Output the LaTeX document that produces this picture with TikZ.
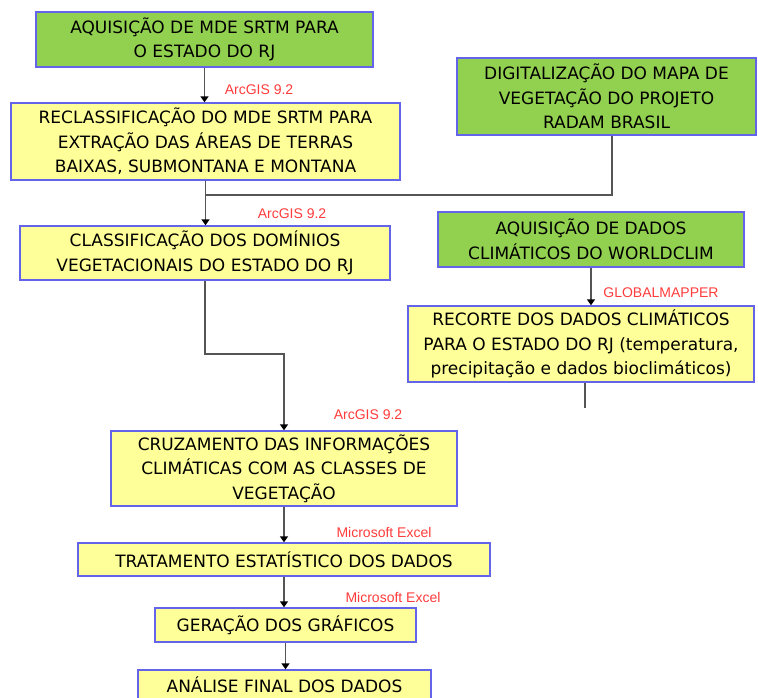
\documentclass[tikz,border=0pt]{standalone}
\usepackage{fontspec}
\setmainfont{DejaVu Sans}
\newfontfamily\labelfont{Liberation Sans}
\usetikzlibrary{arrows.meta}
\definecolor{boxgreen}{RGB}{146,208,80}
\definecolor{boxyellow}{RGB}{255,255,153}
\definecolor{boxblue}{RGB}{100,100,235}
\definecolor{linegray}{RGB}{85,85,85}
\definecolor{labelred}{RGB}{255,60,60}
\begin{document}
\begin{tikzpicture}[x=1pt,y=-1pt,
  box/.style={draw=boxblue, line width=1.4pt, inner sep=0pt, align=center,
    font=\fontsize{17}{24.5}\selectfont},
  greenbox/.style={box, fill=boxgreen},
  yellowbox/.style={box, fill=boxyellow},
  conn/.style={draw=linegray, line width=1.6pt},
  arr/.style={conn, -{Triangle[length=6pt,width=8pt,color=black]}},
  tool/.style={text=labelred, inner sep=0pt, font=\labelfont\fontsize{14}{14}\selectfont}]
\clip (0,0) rectangle (758,697);
\fill[white] (0,0) rectangle (758,697);

% boxes
\node[greenbox, minimum width=337pt, minimum height=55pt] (b1) at (204.5,39.5)
  {AQUISIÇÃO DE MDE SRTM PARA\\O ESTADO DO RJ};
\node[yellowbox, minimum width=389pt, minimum height=77pt] (b2) at (205.5,141.5)
  {RECLASSIFICAÇÃO DO MDE SRTM PARA\\EXTRAÇÃO DAS ÁREAS DE TERRAS\\BAIXAS, SUBMONTANA E MONTANA};
\node[greenbox, minimum width=299pt, minimum height=77pt] (b3) at (606.5,96.5)
  {DIGITALIZAÇÃO DO MAPA DE\\VEGETAÇÃO DO PROJETO\\RADAM BRASIL};
\node[yellowbox, minimum width=370pt, minimum height=54pt] (b4) at (205,253)
  {CLASSIFICAÇÃO DOS DOMÍNIOS\\VEGETACIONAIS DO ESTADO DO RJ};
\node[greenbox, minimum width=306pt, minimum height=55pt] (b5) at (591,239.5)
  {AQUISIÇÃO DE DADOS\\CLIMÁTICOS DO WORLDCLIM};
\node[yellowbox, minimum width=346pt, minimum height=76pt] (b6) at (581,344)
  {RECORTE DOS DADOS CLIMÁTICOS\\PARA O ESTADO DO RJ (temperatura,\\precipitação e dados bioclimáticos)};
\node[yellowbox, minimum width=346pt, minimum height=75pt] (b7) at (284,468.5)
  {CRUZAMENTO DAS INFORMAÇÕES\\CLIMÁTICAS COM AS CLASSES DE\\VEGETAÇÃO};
\node[yellowbox, minimum width=412pt, minimum height=33pt] (b8) at (284,559.5)
  {TRATAMENTO ESTATÍSTICO DOS DADOS};
\node[yellowbox, minimum width=261pt, minimum height=34pt] (b9) at (285.5,625)
  {GERAÇÃO DOS GRÁFICOS};
\node[yellowbox, minimum width=293pt, minimum height=30pt] (b10) at (284.5,685)
  {ANÁLISE FINAL DOS DADOS};

% tool labels
\node[tool] (t1) at (259,90) {ArcGIS 9.2};
\node[tool] (t2) at (292,214) {ArcGIS 9.2};
\node[tool] (t3) at (661,293) {GLOBALMAPPER};
\node[tool] (t4) at (368,415) {ArcGIS 9.2};
\node[tool] (t5) at (384,532) {Microsoft Excel};
\node[tool] (t6) at (393,597) {Microsoft Excel};

% connectors
\coordinate (j1) at (205.5,195);
\coordinate (d1) at (585,408);
\draw[arr] (b1.south) -- (b1.south |- b2.north);
\draw[arr] (b2.south) -- (b2.south |- b4.north);
\draw[conn] ([xshift=5.5pt]b3.south) |- (j1);
\draw[arr] (b4.south) -- (b4.south |- 0,354) -| (b7.north);
\draw[arr] (b5.south) -- (b5.south |- b6.north);
\draw[conn] (d1 |- b6.south) -- (d1);
\draw[arr] (b7.south) -- (b8.north);
\draw[arr] (b8.south) -- (b8.south |- b9.north);
\draw[arr] (b9.south) -- (b9.south |- b10.north);
\end{tikzpicture}
\end{document}
